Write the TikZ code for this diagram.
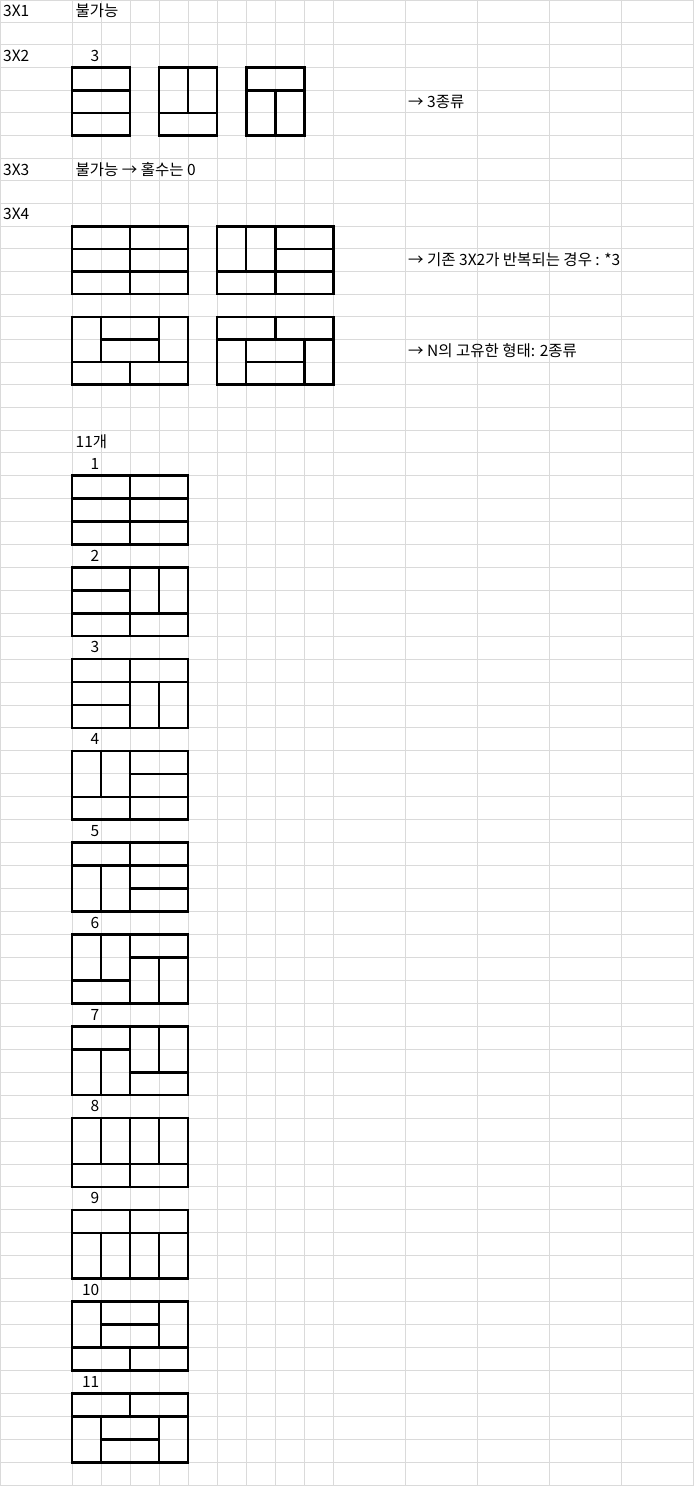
\documentclass[tikz,border=0pt]{standalone}
\usepackage{fontspec}
\setmainfont{Noto Sans CJK KR}
\definecolor{gridc}{RGB}{218,218,218}
\tikzset{
  gridline/.style={draw=gridc, line width=1pt},
  tile/.style={draw=black, line width=2.6pt},
  txt/.style={inner sep=0pt, anchor=base west, font=\fontsize{15.5}{18}\selectfont},
  num/.style={inner sep=0pt, anchor=base east, font=\fontsize{15.5}{18}\selectfont}
}
\newcommand\tileat[4]{\begin{scope}[shift={(#1pt,-#2pt)},x=29.03pt,y=-#3pt]#4\end{scope}}
\begin{document}
\begin{tikzpicture}[x=1pt,y=-1pt]
\useasboundingbox (0,0) rectangle (696,1486);
\fill[white] (0,0) rectangle (696,1486);
% grid
\foreach \k in {1,...,65}{
  \pgfmathsetmacro\yy{\k<22 ? 22.66*\k-0.4 : 475.5+22.95*(\k-21)}
  \draw[gridline] (0,\yy) -- (693.3,\yy);
}
\draw[gridline] (0,0.5) -- (693.3,0.5);
\foreach \xx in {0.5,72,101.3,130,159.3,188,217.3,246,275.3,304,333.3,405.3,477.3,549.3,621.3,693.3}{
  \draw[gridline] (\xx,0) -- (\xx,1486);
}
% texts
\node[txt] (r1a) at (3,16.6) {3X1};
\node[txt] (r1b) at (75.5,16.6) {불가능};
\node[txt] (r3a) at (3,61.5) {3X2};
\node[num] (r3b) at (99.5,61.5) {3};
\node[txt] (r5) at (408,107) {→ 3종류};
\node[txt] (r8a) at (3,175.3) {3X3};
\node[txt] (r8b) at (75.5,175.3) {불가능 → 홀수는 0};
\node[txt] (r10) at (3,219) {3X4};
\node[txt] (r12) at (408,265.4) {→ 기존 3X2가 반복되는 경우 : *3};
\node[txt] (r16) at (408,356.5) {→ N의 고유한 형태: 2종류};
\node[txt] (r20) at (75.5,447) {11개};
% 3x2 tiles
\tileat{72}{67.6}{22.66}{\draw[tile] (0,0) rectangle (2,3) (0,1)--(2,1) (0,2)--(2,2);}
\tileat{159.1}{67.6}{22.66}{\draw[tile] (0,0) rectangle (2,3) (1,0)--(1,2) (0,2)--(2,2);}
\tileat{246.2}{67.6}{22.66}{\draw[tile] (0,0) rectangle (2,3) (0,1)--(2,1) (1,1)--(1,3);}
% 3x4 tiles
\tileat{72}{226.2}{22.66}{\draw[tile] (0,0) rectangle (4,3) (0,1)--(4,1) (0,2)--(4,2) (2,0)--(2,3);}
\tileat{217.15}{226.2}{22.66}{\draw[tile] (0,0) rectangle (4,3) (1,0)--(1,2) (2,0)--(2,3) (0,2)--(4,2) (2,1)--(4,1);}
\tileat{72}{316.8}{22.66}{\draw[tile] (0,0) rectangle (4,3) (1,0)--(1,2) (3,0)--(3,2) (1,1)--(3,1) (0,2)--(4,2) (2,2)--(2,3);}
\tileat{217.15}{316.8}{22.66}{\draw[tile] (0,0) rectangle (4,3) (0,1)--(4,1) (2,0)--(2,1) (1,1)--(1,3) (3,1)--(3,3) (1,2)--(3,2);}
% the 11 tilings
\foreach \j/\segs in {
  1/{(0,1)--(4,1) (0,2)--(4,2) (2,0)--(2,3)},
  2/{(0,1)--(2,1) (0,2)--(4,2) (2,0)--(2,3) (3,0)--(3,2)},
  3/{(0,1)--(4,1) (0,2)--(2,2) (2,0)--(2,3) (3,1)--(3,3)},
  4/{(1,0)--(1,2) (0,2)--(4,2) (2,0)--(2,3) (2,1)--(4,1)},
  5/{(0,1)--(4,1) (1,1)--(1,3) (2,0)--(2,3) (2,2)--(4,2)},
  6/{(1,0)--(1,2) (0,2)--(2,2) (2,0)--(2,3) (2,1)--(4,1) (3,1)--(3,3)},
  7/{(0,1)--(2,1) (1,1)--(1,3) (2,0)--(2,3) (3,0)--(3,2) (2,2)--(4,2)},
  8/{(1,0)--(1,2) (3,0)--(3,2) (0,2)--(4,2) (2,0)--(2,3)},
  9/{(0,1)--(4,1) (1,1)--(1,3) (3,1)--(3,3) (2,0)--(2,3)},
  10/{(1,0)--(1,2) (3,0)--(3,2) (1,1)--(3,1) (0,2)--(4,2) (2,2)--(2,3)},
  11/{(0,1)--(4,1) (2,0)--(2,1) (1,1)--(1,3) (3,1)--(3,3) (1,2)--(3,2)}}{
  \pgfmathsetmacro\ty{475.5+91.8*(\j-1)}
  \pgfmathsetmacro\ly{\ty-6.3}
  \node[num] (lab\j) at (99.5,\ly) {\j};
  \tileat{72}{\ty}{22.95}{\draw[tile] (0,0) rectangle (4,3) \segs;}
}
\end{tikzpicture}
\end{document}
